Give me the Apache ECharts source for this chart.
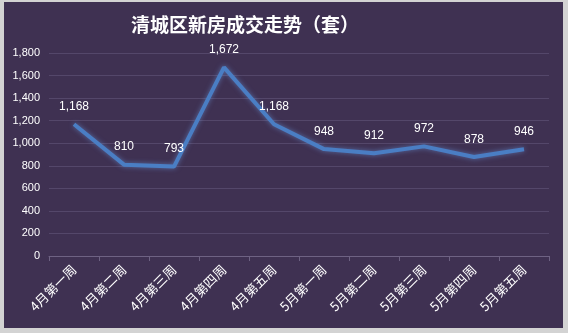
<!DOCTYPE html>
<html>
<head>
<meta charset="utf-8">
<script src="https://cdn.jsdelivr.net/npm/echarts@6/dist/echarts.min.js"></script>
<style>
  html, body { margin: 0; padding: 0; }
  body { width: 568px; height: 333px; background: #d3d3d3; position: relative; overflow: hidden; }
  #chart { position: absolute; left: 4px; top: 2px; width: 559px; height: 326px; }
</style>
</head>
<body>
<div id="chart"></div>
<script>
// Weekly new-home transactions (units) in Qingcheng District
const weeks = ['4月第一周', '4月第二周', '4月第三周', '4月第四周', '4月第五周',
               '5月第一周', '5月第二周', '5月第三周', '5月第四周', '5月第五周'];
const deals = [1168, 810, 793, 1672, 1168, 948, 912, 972, 878, 946];
const yTicks = { min: 0, max: 1800, step: 200 };

const chart = echarts.init(document.getElementById('chart'), null, { renderer: 'canvas' });
chart.setOption({
  backgroundColor: '#3f3152',
  animation: false,
  title: {
    text: '清城区新房成交走势（套）',
    left: 236,
    top: 8,
    textAlign: 'center',
    textStyle: {
      color: '#ffffff',
      fontSize: 19,
      fontWeight: 'bold',
      fontFamily: '"Noto Sans CJK SC", sans-serif'
    }
  },
  grid: { left: 45, right: 14, top: 51, bottom: 72 },
  xAxis: {
    type: 'category',
    data: weeks,
    boundaryGap: true,
    axisLine: { lineStyle: { color: '#6e6283', width: 1 } },
    axisTick: { show: true, length: 5, lineStyle: { color: '#6e6283' } },
    axisLabel: {
      rotate: 45,
      color: '#ffffff',
      fontSize: 13,
      margin: 11,
      fontFamily: '"Noto Sans CJK SC", sans-serif'
    }
  },
  yAxis: {
    type: 'value',
    min: yTicks.min,
    max: yTicks.max,
    interval: yTicks.step,
    axisLine: { show: false },
    axisTick: { show: false },
    axisLabel: {
      color: '#ffffff',
      fontSize: 11,
      margin: 9,
      fontFamily: '"Liberation Sans", sans-serif',
      formatter: v => v.toLocaleString('en-US')
    },
    splitLine: { lineStyle: { color: '#54476a', width: 1 } }
  },
  series: [{
    type: 'line',
    data: deals,
    symbol: 'circle',
    symbolSize: 1,
    showSymbol: true,
    itemStyle: { color: 'rgba(0,0,0,0)' },
    smooth: false,
    lineStyle: {
      color: '#4a7ec4',
      width: 4,
      shadowColor: 'rgba(110,160,235,0.55)',
      shadowBlur: 5
    },
    label: {
      show: true,
      position: 'top',
      distance: 11,
      color: '#ffffff',
      fontSize: 12,
      fontFamily: '"Liberation Sans", sans-serif',
      formatter: p => p.value.toLocaleString('en-US')
    }
  }]
});
</script>
</body>
</html>
